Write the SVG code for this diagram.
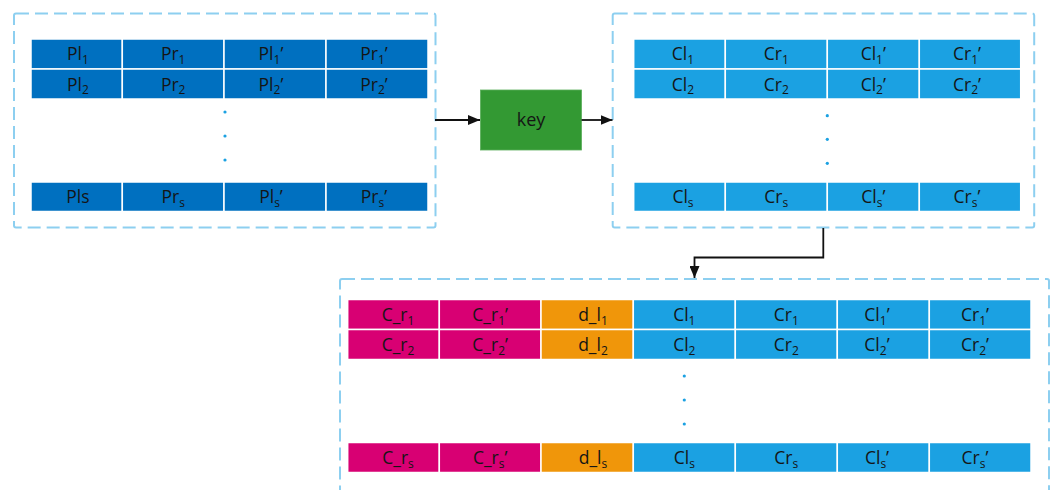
<svg xmlns="http://www.w3.org/2000/svg" width="1057" height="490" viewBox="0 0 1057 490">
<defs>
<style>
.frame{fill:none;stroke:#8DCFF0;stroke-width:2;stroke-dasharray:13 6}
.c{stroke:#fff;stroke-width:1.5}
.db{fill:#0070C0}.lb{fill:#1BA1E2}.mg{fill:#D80073}.or{fill:#F0960A}
text{font-family:"Open Sans","Noto Sans","DejaVu Sans",sans-serif;font-size:17.5px;fill:#151515;text-anchor:middle}
.s{font-size:12px}
.dot{fill:#1BA1E2}
.conn{fill:none;stroke:#111;stroke-width:1.8}
</style>
<marker id="ah" markerUnits="userSpaceOnUse" markerWidth="12" markerHeight="10" refX="12" refY="5" orient="auto">
<path d="M0,0 L12,5 L0,10 z" fill="#111"/>
</marker>
</defs>

<g id="plain-frame">
<rect class="frame" x="14" y="13.5" width="421.5" height="214" rx="2"/>
<g id="plain-row1">
<rect class="c db" x="31" y="39" width="91.3" height="30"/>
<rect class="c db" x="122.3" y="39" width="101.7" height="30"/>
<rect class="c db" x="224" y="39" width="102" height="30"/>
<rect class="c db" x="326" y="39" width="102" height="30"/>
<text x="78" y="60">Pl<tspan class="s" dy="3.5">1</tspan></text>
<text x="173.2" y="60">Pr<tspan class="s" dy="3.5">1</tspan></text>
<text x="271" y="60">Pl<tspan class="s" dy="3.5">1</tspan><tspan dy="-3.5">’</tspan></text>
<text x="374" y="60">Pr<tspan class="s" dy="3.5">1</tspan><tspan dy="-3.5">’</tspan></text>
</g>
<g id="plain-row2">
<rect class="c db" x="31" y="69" width="91.3" height="30"/>
<rect class="c db" x="122.3" y="69" width="101.7" height="30"/>
<rect class="c db" x="224" y="69" width="102" height="30"/>
<rect class="c db" x="326" y="69" width="102" height="30"/>
<text x="78" y="90.5">Pl<tspan class="s" dy="3.5">2</tspan></text>
<text x="173.2" y="90.5">Pr<tspan class="s" dy="3.5">2</tspan></text>
<text x="271" y="90.5">Pl<tspan class="s" dy="3.5">2</tspan><tspan dy="-3.5">’</tspan></text>
<text x="374" y="90.5">Pr<tspan class="s" dy="3.5">2</tspan><tspan dy="-3.5">’</tspan></text>
</g>
<circle class="dot" cx="225" cy="112" r="1.6"/>
<circle class="dot" cx="225" cy="136" r="1.6"/>
<circle class="dot" cx="225" cy="160" r="1.6"/>
<g id="plain-rows">
<rect class="c db" x="31" y="182" width="91.3" height="29.5"/>
<rect class="c db" x="122.3" y="182" width="101.7" height="29.5"/>
<rect class="c db" x="224" y="182" width="102" height="29.5"/>
<rect class="c db" x="326" y="182" width="102" height="29.5"/>
<text x="78" y="203">Pls</text>
<text x="173.2" y="203">Pr<tspan class="s" dy="3.5">s</tspan></text>
<text x="271" y="203">Pl<tspan class="s" dy="3.5">s</tspan><tspan dy="-3.5">’</tspan></text>
<text x="374" y="203">Pr<tspan class="s" dy="3.5">s</tspan><tspan dy="-3.5">’</tspan></text>
</g>
</g>

<g id="key">
<rect x="480.5" y="90" width="101" height="60" fill="#339933" stroke="#5aad5a" stroke-width="0.8"/>
<text x="531" y="126" style="font-size:18px">key</text>
</g>

<g id="cipher-frame">
<rect class="frame" x="612.7" y="13.5" width="421.5" height="214" rx="2"/>
<g id="cipher-row1">
<rect class="c lb" x="633.7" y="39" width="91.6" height="30"/>
<rect class="c lb" x="725.3" y="39" width="102" height="30"/>
<rect class="c lb" x="827.3" y="39" width="92" height="30"/>
<rect class="c lb" x="919.3" y="39" width="101.4" height="30"/>
<text x="683" y="60">Cl<tspan class="s" dy="3.5">1</tspan></text>
<text x="776.3" y="60">Cr<tspan class="s" dy="3.5">1</tspan></text>
<text x="873.3" y="60">Cl<tspan class="s" dy="3.5">1</tspan><tspan dy="-3.5">’</tspan></text>
<text x="967" y="60">Cr<tspan class="s" dy="3.5">1</tspan><tspan dy="-3.5">’</tspan></text>
</g>
<g id="cipher-row2">
<rect class="c lb" x="633.7" y="69" width="91.6" height="30"/>
<rect class="c lb" x="725.3" y="69" width="102" height="30"/>
<rect class="c lb" x="827.3" y="69" width="92" height="30"/>
<rect class="c lb" x="919.3" y="69" width="101.4" height="30"/>
<text x="683" y="90.5">Cl<tspan class="s" dy="3.5">2</tspan></text>
<text x="776.3" y="90.5">Cr<tspan class="s" dy="3.5">2</tspan></text>
<text x="873.3" y="90.5">Cl<tspan class="s" dy="3.5">2</tspan><tspan dy="-3.5">’</tspan></text>
<text x="967" y="90.5">Cr<tspan class="s" dy="3.5">2</tspan><tspan dy="-3.5">’</tspan></text>
</g>
<circle class="dot" cx="827.3" cy="115.7" r="1.6"/>
<circle class="dot" cx="827.3" cy="139.3" r="1.6"/>
<circle class="dot" cx="827.3" cy="163.3" r="1.6"/>
<g id="cipher-rows">
<rect class="c lb" x="633.7" y="182" width="91.6" height="29.5"/>
<rect class="c lb" x="725.3" y="182" width="102" height="29.5"/>
<rect class="c lb" x="827.3" y="182" width="92" height="29.5"/>
<rect class="c lb" x="919.3" y="182" width="101.4" height="29.5"/>
<text x="683" y="203">Cl<tspan class="s" dy="3.5">s</tspan></text>
<text x="776.3" y="203">Cr<tspan class="s" dy="3.5">s</tspan></text>
<text x="873.3" y="203">Cl<tspan class="s" dy="3.5">s</tspan><tspan dy="-3.5">’</tspan></text>
<text x="967" y="203">Cr<tspan class="s" dy="3.5">s</tspan><tspan dy="-3.5">’</tspan></text>
</g>
</g>

<g id="combined-frame">
<rect class="frame" x="340" y="279" width="709" height="230" rx="2"/>
<g id="combined-row1">
<rect class="c mg" x="347.7" y="299.5" width="91.6" height="30"/>
<rect class="c mg" x="439.3" y="299.5" width="101.7" height="30"/>
<rect class="c or" x="541" y="299.5" width="92.3" height="30"/>
<rect class="c lb" x="633.3" y="299.5" width="102" height="30"/>
<rect class="c lb" x="735.3" y="299.5" width="102" height="30"/>
<rect class="c lb" x="837.3" y="299.5" width="92" height="30"/>
<rect class="c lb" x="929.3" y="299.5" width="101.7" height="30"/>
<text x="398" y="321">C_r<tspan class="s" dy="3.5">1</tspan></text>
<text x="490.2" y="321">C_r<tspan class="s" dy="3.5">1</tspan><tspan dy="-3.5">’</tspan></text>
<text x="593" y="321">d_l<tspan class="s" dy="3.5">1</tspan></text>
<text x="684.3" y="321">Cl<tspan class="s" dy="3.5">1</tspan></text>
<text x="786.3" y="321">Cr<tspan class="s" dy="3.5">1</tspan></text>
<text x="877" y="321">Cl<tspan class="s" dy="3.5">1</tspan><tspan dy="-3.5">’</tspan></text>
<text x="975" y="321">Cr<tspan class="s" dy="3.5">1</tspan><tspan dy="-3.5">’</tspan></text>
</g>
<g id="combined-row2">
<rect class="c mg" x="347.7" y="329.5" width="91.6" height="30"/>
<rect class="c mg" x="439.3" y="329.5" width="101.7" height="30"/>
<rect class="c or" x="541" y="329.5" width="92.3" height="30"/>
<rect class="c lb" x="633.3" y="329.5" width="102" height="30"/>
<rect class="c lb" x="735.3" y="329.5" width="102" height="30"/>
<rect class="c lb" x="837.3" y="329.5" width="92" height="30"/>
<rect class="c lb" x="929.3" y="329.5" width="101.7" height="30"/>
<text x="398" y="351">C_r<tspan class="s" dy="3.5">2</tspan></text>
<text x="490.2" y="351">C_r<tspan class="s" dy="3.5">2</tspan><tspan dy="-3.5">’</tspan></text>
<text x="593" y="351">d_l<tspan class="s" dy="3.5">2</tspan></text>
<text x="684.3" y="351">Cl<tspan class="s" dy="3.5">2</tspan></text>
<text x="786.3" y="351">Cr<tspan class="s" dy="3.5">2</tspan></text>
<text x="877" y="351">Cl<tspan class="s" dy="3.5">2</tspan><tspan dy="-3.5">’</tspan></text>
<text x="975" y="351">Cr<tspan class="s" dy="3.5">2</tspan><tspan dy="-3.5">’</tspan></text>
</g>
<circle class="dot" cx="684.3" cy="376" r="1.6"/>
<circle class="dot" cx="684.3" cy="400" r="1.6"/>
<circle class="dot" cx="684.3" cy="424" r="1.6"/>
<g id="combined-rows">
<rect class="c mg" x="347.7" y="442.5" width="91.6" height="30"/>
<rect class="c mg" x="439.3" y="442.5" width="101.7" height="30"/>
<rect class="c or" x="541" y="442.5" width="92.3" height="30"/>
<rect class="c lb" x="633.3" y="442.5" width="102" height="30"/>
<rect class="c lb" x="735.3" y="442.5" width="102" height="30"/>
<rect class="c lb" x="837.3" y="442.5" width="92" height="30"/>
<rect class="c lb" x="929.3" y="442.5" width="101.7" height="30"/>
<text x="398" y="464">C_r<tspan class="s" dy="3.5">s</tspan></text>
<text x="490.2" y="464">C_r<tspan class="s" dy="3.5">s</tspan><tspan dy="-3.5">’</tspan></text>
<text x="593" y="464">d_l<tspan class="s" dy="3.5">s</tspan></text>
<text x="684.3" y="464">Cl<tspan class="s" dy="3.5">s</tspan></text>
<text x="786.3" y="464">Cr<tspan class="s" dy="3.5">s</tspan></text>
<text x="877" y="464">Cl<tspan class="s" dy="3.5">s</tspan><tspan dy="-3.5">’</tspan></text>
<text x="975" y="464">Cr<tspan class="s" dy="3.5">s</tspan><tspan dy="-3.5">’</tspan></text>
</g>
</g>

<g id="connectors">
<path class="conn" d="M435 120 H480" marker-end="url(#ah)"/>
<path class="conn" d="M581.5 120 H612.5" marker-end="url(#ah)"/>
<path class="conn" d="M823.3 228 V257.5 H694.5 V278" marker-end="url(#ah)"/>
</g>
</svg>
